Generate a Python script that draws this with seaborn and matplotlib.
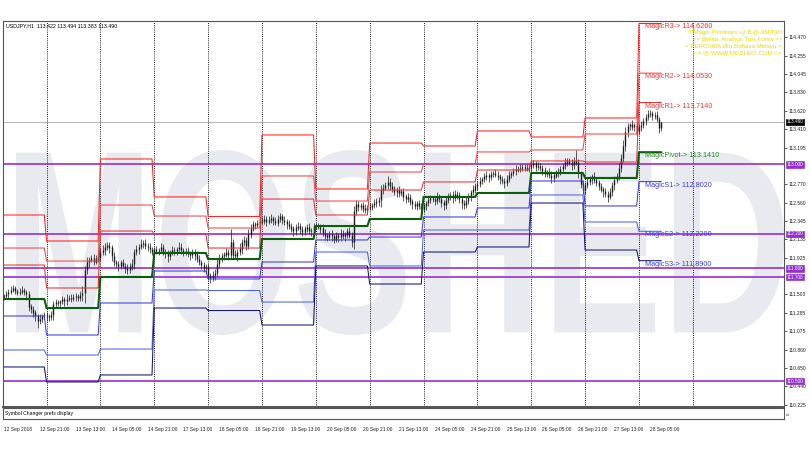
"""
USDJPY H1 chart with Magic Pivotlines (daily pivot, R1-R3, S1-S3)
Rebuilt with seaborn / matplotlib and saved as out.png
"""
import numpy as np
import pandas as pd
import matplotlib
matplotlib.use("Agg")
import matplotlib.pyplot as plt
import seaborn as sns
from matplotlib.textpath import TextPath
from matplotlib.patches import PathPatch
from matplotlib.font_manager import FontProperties
from matplotlib.transforms import Affine2D, blended_transform_factory

# ---- data -------------------------------------------------------------
day_names = ['12 Sep', '13 Sep', '14 Sep', '17 Sep', '18 Sep', '19 Sep', '20 Sep',
             '21 Sep', '24 Sep', '25 Sep', '26 Sep', '27 Sep', '28 Sep']
bars_per_day = [19, 24, 24, 24, 24, 24, 24, 24, 24, 24, 24, 24, 11]

first_open = 111.47
closes = [
    # 12 Sep (from 05:00)
    111.48, 111.50, 111.53, 111.55, 111.57, 111.54, 111.52, 111.53, 111.55, 111.53,
    111.50, 111.36, 111.33, 111.29, 111.25, 111.19, 111.22, 111.25, 111.26,
    # 13 Sep
    111.25, 111.24, 111.26, 111.39, 111.41, 111.40, 111.42, 111.44, 111.42, 111.45, 111.46, 111.45,
    111.47, 111.48, 111.46, 111.49, 111.52, 111.78, 111.87, 111.90, 111.92, 111.88, 111.91, 111.93,
    # 14 Sep
    111.99, 112.01, 112.05, 112.07, 112.04, 111.94, 111.87, 111.85, 111.83, 111.87, 111.83, 111.80,
    111.78, 111.82, 111.85, 111.99, 112.02, 112.05, 112.08, 112.09, 112.06, 112.05, 112.02, 111.99,
    # 17 Sep
    112.02, 112.00, 112.01, 112.04, 111.99, 111.97, 111.94, 111.98, 112.01, 112.00, 112.02, 112.05,
    112.01, 111.99, 112.00, 111.97, 111.95, 111.99, 111.96, 111.91, 111.87, 111.84, 111.80, 111.81,
    # 18 Sep
    111.72, 111.69, 111.72, 111.75, 111.85, 111.92, 111.94, 111.96, 111.99, 111.96, 112.10, 111.96,
    111.94, 111.99, 112.03, 112.10, 112.12, 112.06, 112.19, 112.26, 112.31, 112.30, 112.32, 112.34,
    # 19 Sep
    112.35, 112.37, 112.34, 112.36, 112.38, 112.35, 112.33, 112.37, 112.40, 112.36, 112.34, 112.31,
    112.29, 112.26, 112.23, 112.27, 112.29, 112.25, 112.22, 112.26, 112.27, 112.23, 112.24, 112.29,
    # 20 Sep
    112.29, 112.28, 112.26, 112.21, 112.18, 112.16, 112.19, 112.17, 112.13, 112.18, 112.16, 112.20,
    112.17, 112.19, 112.23, 112.18, 112.11, 112.46, 112.54, 112.51, 112.53, 112.49, 112.47, 112.50,
    # 21 Sep
    112.51, 112.53, 112.55, 112.57, 112.59, 112.70, 112.73, 112.76, 112.80, 112.75, 112.72, 112.68,
    112.70, 112.67, 112.69, 112.63, 112.60, 112.62, 112.57, 112.54, 112.52, 112.55, 112.52, 112.49,
    # 24 Sep
    112.52, 112.55, 112.59, 112.61, 112.60, 112.58, 112.63, 112.60, 112.56, 112.53, 112.59, 112.63,
    112.65, 112.61, 112.66, 112.64, 112.60, 112.55, 112.53, 112.58, 112.63, 112.68, 112.71, 112.75,
    # 25 Sep
    112.77, 112.81, 112.83, 112.86, 112.87, 112.85, 112.89, 112.90, 112.88, 112.86, 112.83, 112.81,
    112.79, 112.83, 112.88, 112.90, 112.92, 112.94, 112.95, 112.96, 112.97, 112.96, 112.95, 112.97,
    # 26 Sep
    112.99, 113.01, 112.97, 112.98, 112.96, 112.93, 112.89, 112.91, 112.88, 112.84, 112.87, 112.90,
    112.91, 112.95, 112.98, 113.02, 113.04, 113.02, 112.99, 113.04, 113.02, 112.90, 112.78, 112.70,
    # 27 Sep
    112.76, 112.80, 112.83, 112.86, 112.82, 112.79, 112.75, 112.71, 112.69, 112.66, 112.63, 112.68,
    112.76, 112.82, 112.86, 112.96, 113.07, 113.21, 113.37, 113.44, 113.46, 113.43, 113.45, 113.38,
    # 28 Sep (to 10:00)
    113.43, 113.45, 113.50, 113.55, 113.58, 113.59, 113.56, 113.57, 113.52, 113.42, 113.49,
]

# wick lengths in pips (0.01) above / below the candle body
wick_hi = [
    3, 4, 3, 5, 4, 3, 2, 4, 5, 3, 2, 4, 3, 4, 3, 2, 5, 3, 4,
    4, 3, 5, 3, 4, 3, 2, 4, 3, 5, 3, 4, 3, 4, 3, 5, 8, 5, 6, 3, 4, 5, 4, 6,
    5, 6, 4, 3, 4, 3, 5, 3, 4, 3, 4, 3, 5, 4, 6, 4, 5, 3, 6, 4, 5, 3, 4, 3,
    3, 4, 3, 5, 4, 3, 4, 3, 5, 4, 3, 6, 4, 3, 4, 5, 3, 4, 3, 4, 5, 3, 4, 4,
    4, 3, 5, 4, 6, 5, 4, 3, 5, 4, 15, 4, 5, 3, 6, 4, 5, 4, 6, 5, 4, 3, 4, 5,
    4, 5, 3, 4, 5, 3, 4, 5, 4, 3, 4, 3, 5, 4, 3, 4, 5, 3, 4, 3, 4, 5, 3, 4,
    3, 4, 3, 5, 4, 3, 4, 5, 3, 4, 3, 5, 4, 3, 4, 5, 4, 6, 5, 4, 3, 4, 5, 3,
    4, 3, 5, 4, 3, 6, 5, 4, 7, 4, 5, 3, 4, 5, 3, 4, 3, 5, 4, 3, 4, 3, 4, 3,
    4, 3, 5, 4, 3, 4, 5, 3, 4, 3, 5, 4, 3, 4, 5, 3, 4, 3, 4, 5, 4, 3, 5, 4,
    4, 5, 3, 4, 5, 3, 4, 3, 5, 4, 3, 4, 3, 5, 4, 3, 4, 5, 3, 4, 3, 4, 5, 3,
    3, 4, 3, 5, 4, 3, 4, 3, 5, 4, 3, 4, 5, 3, 4, 5, 4, 3, 4, 5, 13, 4, 3, 4,
    4, 5, 4, 3, 5, 4, 3, 4, 3, 4, 3, 5, 4, 5, 4, 6, 5, 7, 6, 4, 2, 5, 3, 4,
    4, 5, 4, 3, 5, 4, 3, 4, 5, 3, 0,
]
wick_lo = [
    3, 2, 4, 3, 2, 4, 3, 3, 2, 4, 6, 5, 4, 5, 6, 8, 3, 4, 3,
    6, 4, 3, 5, 4, 3, 4, 3, 5, 4, 3, 4, 3, 5, 4, 3, 6, 12, 4, 5, 3, 4, 3, 4,
    4, 3, 5, 4, 6, 5, 4, 3, 6, 4, 3, 5, 4, 3, 4, 6, 4, 5, 3, 4, 3, 5, 4, 4,
    4, 3, 5, 3, 4, 5, 6, 4, 3, 4, 5, 3, 4, 5, 3, 4, 5, 3, 6, 4, 3, 5, 4, 5,
    5, 6, 4, 5, 4, 3, 5, 4, 3, 6, 4, 4, 3, 5, 4, 6, 4, 5, 3, 4, 3, 4, 3, 4,
    3, 4, 5, 3, 4, 5, 3, 4, 3, 5, 4, 5, 3, 4, 5, 4, 3, 5, 4, 3, 4, 3, 5, 4,
    4, 3, 5, 4, 5, 4, 3, 5, 4, 3, 5, 4, 3, 5, 4, 3, 6, 8, 4, 5, 3, 4, 3, 4,
    3, 4, 3, 4, 5, 8, 4, 3, 4, 5, 4, 3, 5, 4, 3, 5, 4, 3, 4, 5, 3, 4, 3, 5,
    4, 5, 3, 4, 3, 5, 4, 3, 5, 6, 4, 3, 4, 5, 3, 4, 5, 6, 4, 3, 4, 5, 3, 4,
    5, 3, 4, 3, 4, 5, 3, 4, 3, 4, 5, 3, 6, 4, 3, 4, 3, 4, 3, 4, 3, 4, 3, 4,
    4, 3, 5, 3, 4, 5, 4, 3, 4, 5, 4, 3, 4, 3, 4, 3, 4, 3, 5, 4, 3, 6, 5, 4,
    4, 3, 4, 5, 3, 4, 5, 3, 6, 4, 6, 3, 4, 5, 3, 4, 5, 4, 6, 5, 4, 3, 5, 4,
    3, 4, 3, 5, 4, 3, 5, 4, 3, 6, 4,
]

# daily pivot levels (one value per day)
pivot_r3 = [112.417, 112.117, 113.063, 112.625, 112.400, 113.340, 112.717,
            113.247, 113.213, 113.386, 113.317, 113.536, 114.626]
pivot_r2 = [112.036, 111.886, 112.532, 112.405, 112.267, 112.867, 112.578,
            112.913, 113.005, 113.144, 113.167, 113.351, 114.053]
pivot_r1 = [111.840, 111.575, 112.232, 112.198, 112.036, 112.601, 112.417,
            112.705, 112.798, 112.936, 113.040, 113.028, 113.714]
pivot_p = [111.448, 111.344, 111.702, 111.979, 111.909, 112.140, 112.290,
           112.371, 112.625, 112.671, 112.901, 112.844, 113.141]
pivot_s1 = [111.252, 111.033, 111.402, 111.771, 111.679, 111.875, 112.129,
            112.163, 112.394, 112.498, 112.809, 112.521, 112.802]
pivot_s2 = [110.860, 110.802, 110.871, 111.552, 111.546, 111.413, 111.990,
            111.829, 112.244, 112.244, 112.648, 112.336, 112.229]
pivot_s3 = [110.664, 110.491, 110.572, 111.344, 111.315, 111.148, 111.829,
            111.621, 111.990, 112.048, 112.555, 112.013, 111.890]

key_levels = [113.000, 112.200, 111.800, 111.700, 110.500]
last_price = 113.490
# 112.985 and 111.710 sit under the level boxes and are not shown
price_ticks = [110.225, 110.440, 110.650, 110.860, 111.075, 111.285, 111.500,
               111.925, 112.135, 112.345, 112.560, 112.770,
               113.195, 113.410, 113.620, 113.830, 114.045, 114.255, 114.470]
time_labels = ['12 Sep 2018', '12 Sep 21:00', '13 Sep 13:00', '14 Sep 05:00',
               '14 Sep 21:00', '17 Sep 13:00', '18 Sep 05:00', '18 Sep 21:00',
               '19 Sep 13:00', '20 Sep 05:00', '20 Sep 21:00', '21 Sep 13:00',
               '24 Sep 05:00', '24 Sep 21:00', '25 Sep 13:00', '26 Sep 05:00',
               '26 Sep 21:00', '27 Sep 13:00', '28 Sep 05:00']
header_text = 'USDJPY,H1  113.422 113.494 113.383 113.490'
info_lines = ['!!!Magic Pivotlines v2.8 @ 4M(F)!!!',
              '<= Berita, Analisa, Tips Forex =>',
              '= PERCUMA dlm Bahasa Melayu =',
              '<= @ WWW.MOSHED.COM <=']
watermark = 'MOSHED'

# ---- style ------------------------------------------------------------
W, H = 810, 450
sns.set_style('white')
plt.rcParams['font.family'] = ['Liberation Sans', 'DejaVu Sans']

LEVELS = [
    ('MagicR3', pivot_r3, '#ff2222', 0.75),
    ('MagicR2', pivot_r2, '#f04848', 0.75),
    ('MagicR1', pivot_r1, '#e83030', 0.75),
    ('MagicPivot', pivot_p, '#0b5e0b', 1.5),
    ('MagicS1', pivot_s1, '#3a3ad8', 0.75),
    ('MagicS2', pivot_s2, '#4f63e8', 0.75),
    ('MagicS3', pivot_s3, '#14147a', 0.75),
]
LABEL_COLORS = {'MagicR3': '#ff2a2a', 'MagicR2': '#f03a3a', 'MagicR1': '#f03a3a',
                'MagicPivot': '#2a8a2a', 'MagicS1': '#3b3be0', 'MagicS2': '#3b3be0',
                'MagicS3': '#3b3be0'}
PURPLE = '#9430d0'


def px_to_fig(x0, y0, x1, y1):
    """pixel box (top-left origin) -> figure fraction rect"""
    return [x0 / W, 1 - y1 / H, (x1 - x0) / W, (y1 - y0) / H]


def build_frames():
    n = len(closes)
    bar = np.arange(n)
    day_idx = np.repeat(np.arange(len(bars_per_day)), bars_per_day)
    c = np.array(closes)
    o = np.r_[first_open, c[:-1]]
    candles = pd.DataFrame({
        'bar': bar, 'open': o, 'close': c,
        'high': np.maximum(o, c) + np.array(wick_hi) / 100.0,
        'low': np.minimum(o, c) - np.array(wick_lo) / 100.0,
    })
    rows = []
    for name, vals, _, _ in LEVELS:
        rows.append(pd.DataFrame({'bar': bar, 'price': np.array(vals)[day_idx], 'level': name}))
    pivots = pd.concat(rows, ignore_index=True)
    return candles, pivots


def create_chart(candles, pivots, output_path='out.png'):
    fig = plt.figure(figsize=(W / 100, H / 100), dpi=100)
    fig.patch.set_facecolor('white')

    ax = fig.add_axes(px_to_fig(3, 21, 784, 407))
    sub = fig.add_axes(px_to_fig(3, 408, 784, 419), sharex=ax)

    # bar index -> pixel: x = 3.9 + 2.244 * bar
    ax.set_xlim((3 - 3.9) / 2.244, (784 - 3.9) / 2.244)
    ax.set_ylim(110.2024, 114.6545)

    # watermark, stretched to fill the middle band
    tp = TextPath((0, 0), watermark, size=100,
                  prop=FontProperties(family='Liberation Sans', weight='bold'))
    bb = tp.get_extents()
    tx0, tx1, ty_top, ty_bot = 16, 784, 150, 335
    tr = (Affine2D().translate(-bb.x0, -bb.y0)
          .scale((tx1 - tx0) / bb.width, (ty_bot - ty_top) / bb.height)
          .translate(tx0, H - ty_bot))
    wm = PathPatch(tp, transform=tr, facecolor='#e8eaf0', edgecolor='none', zorder=0.2)
    wm.set_clip_path(ax.patch)
    ax.add_artist(wm)

    # day separators
    starts = np.cumsum(bars_per_day)
    for s in list(starts[:-1]) + [starts[-2] + 24]:
        ax.axvline(s, color='black', lw=0.6, ls=(0, (1.2, 1.4)), zorder=1)

    # key levels and current price line
    for lv in key_levels:
        ax.axhline(lv, color=PURPLE, lw=1.2, zorder=2)
    ax.axhline(last_price, color='#9a9a9a', lw=0.5, zorder=2)

    # candles
    ax.vlines(candles['bar'], candles['low'], candles['high'], color='#1a1a1a', lw=0.5, zorder=3)
    body_lo = candles[['open', 'close']].min(axis=1)
    body_hi = candles[['open', 'close']].max(axis=1)
    ax.vlines(candles['bar'], body_lo, body_hi + 0.003, color='#1a1a1a', lw=1.0, zorder=3)

    # pivot step lines
    for name, vals, color, lw in LEVELS:
        sns.lineplot(data=pivots[pivots['level'] == name], x='bar', y='price',
                     color=color, lw=lw, estimator=None, sort=False,
                     legend=False, ax=ax, zorder=4)
    label_x = (645 - 3.9) / 2.244
    for name, vals, color, lw in LEVELS:
        ax.text(label_x, vals[-1], f'{name}-> {vals[-1]:.4f}', color=LABEL_COLORS[name],
                fontsize=5.2, ha='left', va='top', zorder=6)

    # texts at the top
    ax.text(3 / 781, 1 - 5 / 386, header_text, transform=ax.transAxes, fontsize=3.8,
            ha='left', va='center', color='black')
    for k, line in enumerate(info_lines):
        ax.text(1 - 2 / 781, 1 - (11 + 7 * k) / 386, line, transform=ax.transAxes,
                fontsize=4.4, ha='right', va='center', color='#e6dc00', zorder=6)

    # right price scale
    ax.yaxis.tick_right()
    ax.set_yticks(price_ticks)
    ax.set_yticklabels([f'{t:.3f}' for t in price_ticks])
    ax.tick_params(axis='y', length=2, width=0.5, pad=1.5, labelsize=3.6, colors='#222222')
    ax.tick_params(axis='x', length=0, labelbottom=False)
    ax.set_xlabel('')
    ax.set_ylabel('')

    right = blended_transform_factory(ax.transAxes, ax.transData)
    for lv in key_levels:
        ax.text(1 + 2.5 / 781, lv, f'{lv:.3f}', transform=right, fontsize=3.4, color='white',
                ha='left', va='center', clip_on=False, zorder=10,
                bbox=dict(boxstyle='square,pad=0.12', fc=PURPLE, ec=PURPLE, lw=0.5))
    ax.text(1 + 2.5 / 781, last_price, f'{last_price:.3f}', transform=right, fontsize=3.4,
            color='white', ha='left', va='center', clip_on=False, zorder=10,
            bbox=dict(boxstyle='square,pad=0.12', fc='black', ec='black', lw=0.5))

    for sp in ax.spines.values():
        sp.set_color('#555555')
        sp.set_linewidth(0.8)
    ax.spines['bottom'].set_linewidth(1.4)

    # indicator sub-window with time scale
    sub.set_ylim(0, 1)
    sub.set_yticks([])
    sub.text(2 / 781, 0.5, 'Symbol Changer prefs display', transform=sub.transAxes,
             fontsize=3.6, ha='left', va='center', color='black')
    sub.text(1 + 3 / 781, 0.5, '0', transform=sub.transAxes, rotation=90,
             fontsize=3.2, ha='left', va='center', color='#222222', clip_on=False)
    sub.set_xticks(np.arange(len(time_labels)) * 16)
    sub.set_xticklabels(time_labels, ha='left')
    sub.tick_params(axis='x', length=2, width=0.5, pad=4, labelsize=3.5, colors='#222222')
    for sp in sub.spines.values():
        sp.set_color('#555555')
        sp.set_linewidth(0.8)
    sub.set_xlabel('')

    fig.savefig(output_path, dpi=100)
    plt.close(fig)


def main():
    candles, pivots = build_frames()
    create_chart(candles, pivots, 'out.png')


if __name__ == '__main__':
    main()
